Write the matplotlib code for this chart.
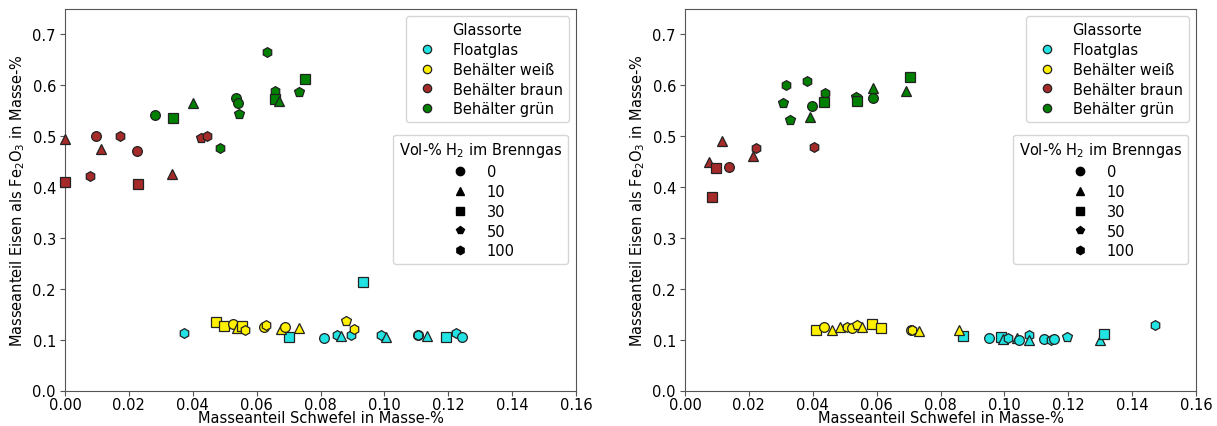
import matplotlib
matplotlib.use("Agg")
import matplotlib.pyplot as plt
from matplotlib.lines import Line2D

# ---------------- data ----------------
glass_types = ["Floatglas", "Behälter weiß", "Behälter braun", "Behälter grün"]
glass_colors = ["#22E3E3", "#FFF000", "#A52A2A", "#008000"]
h2_levels = [0, 10, 30, 50, 100]
h2_markers = ["o", "^", "s", "p", "h"]

# left panel
L_float_x = [0.0374, 0.0932, 0.0700, 0.0811, 0.0851, 0.0864, 0.0895, 0.0989, 0.1004, 0.1104, 0.1105, 0.1134, 0.1193, 0.1224, 0.1242]
L_float_y = [0.114, 0.214, 0.106, 0.103, 0.110, 0.108, 0.110, 0.110, 0.105, 0.110, 0.110, 0.108, 0.105, 0.114, 0.105]
L_float_h = [100, 30, 30, 0, 100, 10, 100, 100, 10, 0, 100, 10, 30, 100, 0]

L_weiss_x = [0.0472, 0.0498, 0.0527, 0.0538, 0.0553, 0.0565, 0.0623, 0.0628, 0.0675, 0.0690, 0.0733, 0.0880, 0.0905]
L_weiss_y = [0.135, 0.126, 0.130, 0.123, 0.126, 0.119, 0.124, 0.129, 0.120, 0.125, 0.123, 0.136, 0.121]
L_weiss_h = [30, 30, 0, 10, 30, 100, 0, 100, 10, 0, 10, 50, 100]

L_braun_x = [0.0, 0.0097, 0.0172, 0.0112, 0.0224, 0.0426, 0.0445, 0.0079, 0.0, 0.0229, 0.0335]
L_braun_y = [0.494, 0.501, 0.501, 0.474, 0.470, 0.496, 0.501, 0.422, 0.410, 0.406, 0.425]
L_braun_h = [10, 0, 100, 10, 0, 50, 100, 100, 30, 30, 10]

L_gruen_x = [0.0632, 0.0751, 0.0734, 0.0657, 0.0657, 0.0670, 0.0534, 0.0543, 0.0545, 0.0400, 0.0282, 0.0338, 0.0486]
L_gruen_y = [0.665, 0.612, 0.586, 0.588, 0.574, 0.569, 0.575, 0.566, 0.543, 0.566, 0.541, 0.535, 0.476]
L_gruen_h = [100, 30, 50, 100, 30, 10, 0, 0, 50, 10, 0, 30, 100]

# right panel
R_float_x = [0.0869, 0.0953, 0.0989, 0.0997, 0.1012, 0.1039, 0.1047, 0.1077, 0.1077, 0.1124, 0.1146, 0.1156, 0.1195, 0.1298, 0.1313, 0.1471]
R_float_y = [0.107, 0.104, 0.106, 0.101, 0.104, 0.104, 0.099, 0.110, 0.100, 0.101, 0.099, 0.101, 0.106, 0.099, 0.112, 0.128]
R_float_h = [30, 0, 30, 10, 100, 10, 0, 100, 10, 0, 100, 0, 50, 10, 30, 100]

R_weiss_x = [0.0409, 0.0436, 0.0461, 0.0485, 0.0506, 0.0524, 0.0538, 0.0555, 0.0586, 0.0613, 0.0707, 0.0711, 0.0734, 0.0859]
R_weiss_y = [0.118, 0.124, 0.118, 0.125, 0.125, 0.122, 0.128, 0.124, 0.130, 0.122, 0.118, 0.118, 0.117, 0.118]
R_weiss_h = [30, 0, 10, 10, 100, 0, 50, 10, 30, 30, 0, 100, 10, 10]

R_braun_x = [0.0116, 0.0223, 0.0212, 0.0074, 0.0096, 0.0139, 0.0405, 0.0084]
R_braun_y = [0.490, 0.477, 0.461, 0.450, 0.437, 0.439, 0.478, 0.380]
R_braun_h = [10, 100, 10, 10, 30, 0, 100, 30]

R_gruen_x = [0.0381, 0.0316, 0.0307, 0.0330, 0.0397, 0.0392, 0.0438, 0.0434, 0.0536, 0.0539, 0.0590, 0.0590, 0.0704, 0.0693]
R_gruen_y = [0.609, 0.601, 0.565, 0.532, 0.559, 0.537, 0.584, 0.568, 0.577, 0.569, 0.594, 0.576, 0.616, 0.589]
R_gruen_h = [100, 100, 50, 50, 0, 10, 100, 30, 50, 30, 10, 0, 30, 10]

x_ticks = [0.00, 0.02, 0.04, 0.06, 0.08, 0.10, 0.12, 0.14, 0.16]
y_ticks = [0.0, 0.1, 0.2, 0.3, 0.4, 0.5, 0.6, 0.7]

panels = [
    [(L_float_x, L_float_y, L_float_h), (L_weiss_x, L_weiss_y, L_weiss_h),
     (L_braun_x, L_braun_y, L_braun_h), (L_gruen_x, L_gruen_y, L_gruen_h)],
    [(R_float_x, R_float_y, R_float_h), (R_weiss_x, R_weiss_y, R_weiss_h),
     (R_braun_x, R_braun_y, R_braun_h), (R_gruen_x, R_gruen_y, R_gruen_h)],
]

# ---------------- figure ----------------
plt.rcParams["font.family"] = ["DejaVu Sans"]
plt.rcParams["font.size"] = 10.5

fig = plt.figure(figsize=(12.17, 4.27), dpi=100)
ax_pos = [
    [65 / 1217, 1 - 391.5 / 427, 511 / 1217, 381.5 / 427],
    [685 / 1217, 1 - 391.5 / 427, 511 / 1217, 381.5 / 427],
]
marker_of = dict(zip(h2_levels, h2_markers))

for pos, groups in zip(ax_pos, panels):
    ax = fig.add_axes(pos)
    for (xs, ys, hs), col in zip(groups, glass_colors):
        for x, y, h in zip(xs, ys, hs):
            ax.plot([x], [y], linestyle="none", marker=marker_of[h], markersize=7,
                    markerfacecolor=col, markeredgecolor="#222222",
                    markeredgewidth=0.9, clip_on=False, zorder=3)
    ax.set_xlim(0, 0.16)
    ax.set_ylim(0, 0.75)
    ax.set_xticks(x_ticks)
    ax.set_xticklabels([f"{t:.2f}" for t in x_ticks])
    ax.set_yticks(y_ticks)
    ax.set_yticklabels([f"{t:.1f}" for t in y_ticks])
    for sp in ax.spines.values():
        sp.set_color("#555555")
    ax.tick_params(color="#555555", length=3.5)
    ax.tick_params(axis="x", pad=1)
    ax.tick_params(axis="y", pad=3)
    ax.set_xlabel("Masseanteil Schwefel in Masse-%", labelpad=-1.5)
    ax.set_ylabel("Masseanteil Eisen als Fe$_2$O$_3$ in Masse-%", labelpad=4)

    h1 = [Line2D([], [], linestyle="none", marker="o", markersize=6,
                 markerfacecolor=c, markeredgecolor="#222222", markeredgewidth=0.9)
          for c in glass_colors]
    leg1 = ax.legend(h1, glass_types, title="Glassorte", loc="upper right",
                     labelspacing=0.33)
    ax.add_artist(leg1)
    h2 = [Line2D([], [], linestyle="none", marker=m, markersize=6, color="black")
          for m in h2_markers]
    ax.legend(h2, [str(v) for v in h2_levels], title="Vol-% H$_2$ im Brenngas",
              loc="upper right", bbox_to_anchor=(0.984, 0.671), borderaxespad=0,
              labelspacing=0.33)

fig.savefig("out.png", dpi=100)
